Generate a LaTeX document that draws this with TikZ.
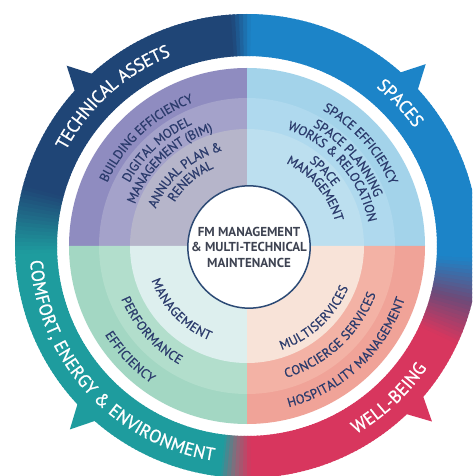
\documentclass[tikz,border=0pt]{standalone}
\usepackage{fontspec}
\setmainfont{PT Sans}
\newfontfamily\ringfam[FakeStretch=0.97,FakeBold=1.0]{PT Sans}
\newfontfamily\quadfam[FakeBold=0.7]{PT Sans}
\usetikzlibrary{decorations.text}

% outer ring colours
\definecolor{ringnavy}{HTML}{1F4576}
\definecolor{ringblue}{HTML}{1C84C8}
\definecolor{ringred}{HTML}{D8365E}
\definecolor{ringteal}{HTML}{1E9C9E}
\definecolor{ringmauve}{HTML}{6E4A78}
\definecolor{ringdusk}{HTML}{8A6A7A}
% quadrant bands (outer, middle, inner)
\definecolor{tlA}{HTML}{8F8CC0}
\definecolor{tlB}{HTML}{A4A2CA}
\definecolor{tlC}{HTML}{B6B5CA}
\definecolor{trA}{HTML}{A3D3EA}
\definecolor{trB}{HTML}{AFD9EE}
\definecolor{trC}{HTML}{BCDFEF}
\definecolor{blA}{HTML}{A3D7C3}
\definecolor{blB}{HTML}{B2DECC}
\definecolor{blC}{HTML}{DDEFEE}
\definecolor{brA}{HTML}{F0A398}
\definecolor{brB}{HTML}{F3B2A5}
\definecolor{brC}{HTML}{F8E3D8}
\definecolor{qtext}{HTML}{2B3B6C}
\definecolor{ctext}{HTML}{3E4352}
\definecolor{circline}{HTML}{2C4A75}

% ring slice from angle #1 to #2, colour blending #3 -> #4
\newcommand\ringpart[4]{%
  \pgfmathtruncatemacro\rpn{#2-(#1)}%
  \foreach \k in {1,...,\rpn}{%
    \pgfmathsetmacro\ra{#1+\k-1}%
    \pgfmathsetmacro\rb{#1+\k+0.4}%
    \pgfmathsetmacro\rp{100*(\k-0.5)/\rpn}%
    \fill[#4!\rp!#3] (\ra:190pt) arc[start angle=\ra,end angle=\rb,radius=190pt]
      -- (\rb:232pt) arc[start angle=\rb,end angle=\ra,radius=232pt] -- cycle;
  }}
% pie sector from angle #1 to #2, radius #3, colour #4
\newcommand\quadsector[4]{%
  \fill[#4] (0,0) -- (#1:#3) arc[start angle=#1,end angle=#2,radius=#3] -- cycle;}
% arrow barb on the ring at angle #1, colour #2
\newcommand\barb[2]{%
  \fill[#2] (#1-3.4:229pt) -- (#1:255pt) -- (#1+3.4:229pt) -- cycle;}
% text along a clockwise arc (tops outward): angle, radius, raise, colour, text
\newcommand\cwtext[5]{%
  \path[decorate,decoration={text along path,text align=center,raise=#3,
    text color=#4,text={#5}}]
    (#1+70:#2) arc[start angle=#1+70,end angle=#1-70,radius=#2];}
% text along a counter-clockwise arc (tops inward)
\newcommand\ccwtext[5]{%
  \path[decorate,decoration={text along path,text align=center,raise=#3,
    text color=#4,text={#5}}]
    (#1-70:#2) arc[start angle=#1-70,end angle=#1+70,radius=#2];}
\newcommand\ringfont{\ringfam\fontsize{18pt}{18pt}\selectfont}
\newcommand\qfont{\quadfam\fontsize{13pt}{13pt}\selectfont}

\begin{document}
\begin{tikzpicture}
\useasboundingbox (-247pt,-230pt) rectangle (225pt,246pt);
\fill[white] (-247pt,-230pt) rectangle (225pt,246pt);
\clip (-247pt,-230pt) rectangle (225pt,246pt);

% outer circular band with blended colour changes
\ringpart{-97}{-93}{ringteal}{ringdusk}
\ringpart{-93}{-89}{ringdusk}{ringred}
\ringpart{-89}{-25}{ringred}{ringred}
\ringpart{-25}{-14}{ringred}{ringmauve}
\ringpart{-14}{-3}{ringmauve}{ringblue}
\ringpart{-3}{89}{ringblue}{ringblue}
\ringpart{89}{94}{ringblue}{ringnavy}
\ringpart{94}{165}{ringnavy}{ringnavy}
\ringpart{165}{182}{ringnavy}{ringteal}
\ringpart{182}{263}{ringteal}{ringteal}

% barbs
\barb{45.5}{ringblue}
\barb{135}{ringnavy}
\barb{226}{ringteal}
\barb{-43.5}{ringred}

% quadrants, three bands each
\quadsector{90}{180}{178pt}{tlA}
\quadsector{0}{90}{178pt}{trA}
\quadsector{180}{270}{178pt}{blA}
\quadsector{270}{360}{178pt}{brA}
\quadsector{90}{180}{148pt}{tlB}
\quadsector{0}{90}{148pt}{trB}
\quadsector{180}{270}{148pt}{blB}
\quadsector{270}{360}{148pt}{brB}
\quadsector{90}{180}{117pt}{tlC}
\quadsector{0}{90}{117pt}{trC}
\quadsector{180}{270}{117pt}{blC}
\quadsector{270}{360}{117pt}{brC}

% ring labels
\cwtext{132}{211pt}{-6.3pt}{white}{|\ringfont|TECHNICAL ASSETS}
\cwtext{43}{211pt}{-6.3pt}{white}{|\ringfont|SPACES}
\ccwtext{222.5}{211pt}{-6.3pt}{white}{|\ringfont|COMFORT, ENERGY {\&} ENVIRONMENT}
\ccwtext{-47}{211pt}{-6.3pt}{white}{|\ringfont|WELL-BEING}

% top-left quadrant
\cwtext{133}{158pt}{-4.5pt}{qtext}{|\qfont|BUILDING EFFICIENCY}
\cwtext{133}{138pt}{-4.5pt}{qtext}{|\qfont|DIGITAL MODEL}
\cwtext{133}{124pt}{-4.5pt}{qtext}{|\qfont|MANAGEMENT (BIM)}
\cwtext{131}{103pt}{-4.5pt}{qtext}{|\qfont|ANNUAL PLAN {\&}}
\cwtext{131}{89pt}{-4.5pt}{qtext}{|\qfont|RENEWAL}

% top-right quadrant
\cwtext{42}{160pt}{-4.5pt}{qtext}{|\qfont|SPACE EFFICIENCY}
\cwtext{41}{141pt}{-4.5pt}{qtext}{|\qfont|SPACE PLANNING}
\cwtext{41}{128pt}{-4.5pt}{qtext}{|\qfont|WORKS {\&} RELOCATION}
\cwtext{44}{109pt}{-4.5pt}{qtext}{|\qfont|SPACE}
\cwtext{40}{96pt}{-4.5pt}{qtext}{|\qfont|MANAGEMENT}

% bottom-left quadrant
\ccwtext{223.5}{163pt}{-4.5pt}{qtext}{|\qfont|EFFICIENCY}
\ccwtext{221.5}{132pt}{-4.5pt}{qtext}{|\qfont|PERFORMANCE}
\ccwtext{224}{97pt}{-4.5pt}{qtext}{|\qfont|MANAGEMENT}

% bottom-right quadrant
\ccwtext{-47}{162pt}{-4.5pt}{qtext}{|\qfont|HOSPITALITY MANAGEMENT}
\ccwtext{-47}{133pt}{-4.5pt}{qtext}{|\qfont|CONCIERGE SERVICES}
\ccwtext{-47}{105pt}{-4.5pt}{qtext}{|\qfont|MULTISERVICES}

% hub
\node[circle,draw=circline,line width=1.5pt,fill=white,minimum size=122pt,
  inner sep=0pt,align=center,text=ctext,
  font=\bfseries\fontsize{13pt}{15.5pt}\selectfont] (hub) at (2pt,-1pt)
  {FM MANAGEMENT\\\& MULTI-TECHNICAL\\MAINTENANCE};
\end{tikzpicture}
\end{document}
